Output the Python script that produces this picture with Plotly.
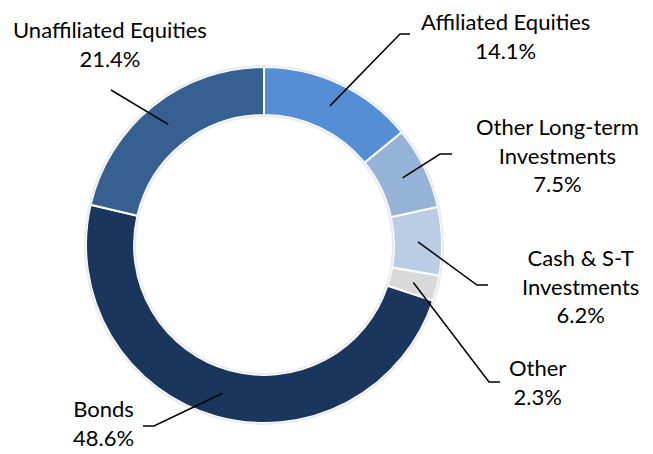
import math
import plotly.graph_objects as go

# ---- data ----
categories = ["Affiliated Equities", "Other Long-term Investments", "Cash & S-T Investments",
              "Other", "Bonds", "Unaffiliated Equities"]
label_text = ["Affiliated Equities", "Other Long-term<br>Investments", "Cash & S-T<br>Investments",
              "Other", "Bonds", "Unaffiliated Equities"]
values = [14.1, 7.5, 6.2, 2.3, 48.6, 21.4]
colors = ["#558ED5", "#95B3D7", "#B9CDE5", "#D9D9D9", "#1A365D", "#376092"]

# ---- layout (pixels) ----
W, H = 653, 454
CX, CY, R = 264, 245, 178
HOLE = 0.73
# label centre, elbow point, end of horizontal tick (pixels)
label_pos = [(505, 36), (557, 155), (580, 286), (537, 382), (103, 423), (110, 44)]
elbow_pos = [(400, 34), (440, 154), (477, 285), (489, 382), (154, 426), (111, 90)]
tick_end = [(410, 34), (452, 154), (488, 285), (500, 382), (143, 426), (111, 90)]

def px(x):
    return x / W

def py(y):
    return 1 - y / H

fig = go.Figure(go.Pie(
    labels=categories, values=values, sort=False, direction="clockwise", rotation=0,
    hole=HOLE, textinfo="none", hoverinfo="label+percent",
    marker=dict(colors=colors, line=dict(color="white", width=2)),
    domain=dict(x=[px(CX - R), px(CX + R)], y=[py(CY + R), py(CY - R)]),
    showlegend=False,
))

shapes = []
# faint outline around ring
for rr in (R + 1, R * HOLE - 1):
    shapes.append(dict(type="circle", xref="paper", yref="paper",
                       x0=px(CX - rr), x1=px(CX + rr), y0=py(CY + rr), y1=py(CY - rr),
                       line=dict(color="#EBEBEB", width=2), layer="above"))

total = sum(values)
cum = 0
annotations = []
rmid = R * (1 + HOLE) / 2
for i, v in enumerate(values):
    mid = (cum + v / 2) / total * 2 * math.pi
    cum += v
    ax = CX + rmid * math.sin(mid)
    ay = CY - rmid * math.cos(mid)
    ex, ey = elbow_pos[i]
    tx, ty = tick_end[i]
    path = f"M {px(ax)} {py(ay)} L {px(ex)} {py(ey)} L {px(tx)} {py(ty)}"
    shapes.append(dict(type="path", xref="paper", yref="paper", path=path,
                       line=dict(color="black", width=1.5)))
    lx, ly = label_pos[i]
    annotations.append(dict(x=px(lx), y=py(ly), xref="paper", yref="paper",
                            text=f"{label_text[i]}<br>{v:.1f}%", showarrow=False,
                            xanchor="center", yanchor="middle", align="center",
                            font=dict(family="Lato", size=22, color="black")))

fig.update_layout(width=W, height=H, margin=dict(l=0, r=0, t=0, b=0),
                  paper_bgcolor="white", plot_bgcolor="white",
                  shapes=shapes, annotations=annotations)
fig.write_html("out.html", config={"displayModeBar": False},
               post_script="document.body.style.margin='0';document.body.style.overflow='hidden';")
